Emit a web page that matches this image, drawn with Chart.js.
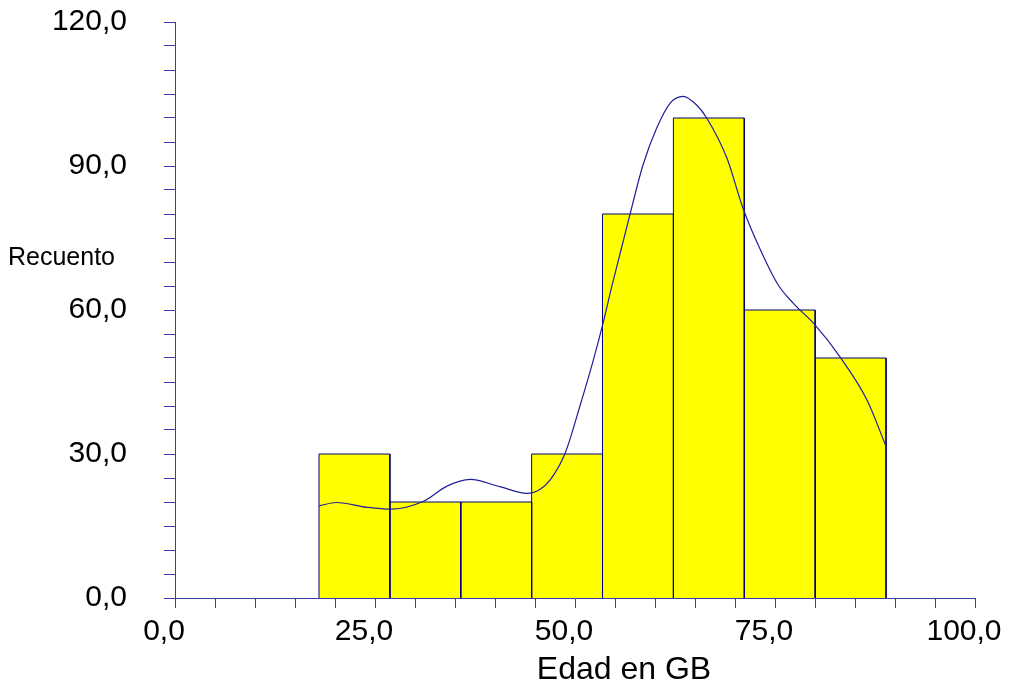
<!DOCTYPE html>
<html>
<head>
<meta charset="utf-8">
<script src="https://cdn.jsdelivr.net/npm/chart.js@4/dist/chart.umd.min.js"></script>
<style>
  body { margin: 0; background: #fff; }
  canvas { display: block; }
</style>
</head>
<body>
<canvas id="c" width="1014" height="685"></canvas>
<script>
// histogram bins (edges) and counts
const binEdges = [18.0, 26.86, 35.72, 44.58, 53.44, 62.3, 71.16, 80.02, 88.88];
const counts = [30, 20, 20, 30, 80, 100, 60, 50];

// density curve
const curveX = [18.0, 20.2, 24.0, 26.9, 31.0, 34.0, 36.9, 40.6, 44.0, 45.6, 46.9, 48.75, 50.6, 52.3, 53.5, 54.6, 55.75, 56.9, 58.5, 60.2, 61.9, 63.5, 65.2, 66.5, 69.0, 71.0, 73.1, 75.4, 77.3, 80.0, 83.1, 86.5, 88.9];
const curveY = [19.2, 19.9, 18.9, 18.5, 20.1, 23.3, 24.7, 23.2, 21.8, 22.6, 24.6, 30.1, 39.9, 49.6, 57.2, 64.9, 72.5, 80.1, 90.2, 97.85, 103.1, 104.5, 102.7, 99.9, 91.6, 81.2, 72.8, 65.2, 61.4, 56.9, 50.3, 41.25, 31.5];

const xLabelValues = [0, 25, 50, 75, 100];
const yLabelValues = [0, 30, 60, 90, 120];

const FONT = "'Liberation Sans', Arial, sans-serif";
const NAVY = "#000080";
const AXIS = "#3c3ca0";

const fmt = v => v.toFixed(1).replace(".", ",");

const barSets = counts.map((h, i) => ({
  data: [
    { x: binEdges[i], y: 0 },
    { x: binEdges[i], y: h },
    { x: binEdges[i + 1], y: h },
    { x: binEdges[i + 1], y: 0 }
  ],
  fill: "origin",
  backgroundColor: "#ffff00",
  borderColor: NAVY,
  borderWidth: 1,
  pointRadius: 0,
  tension: 0,
  order: 2
}));

const curveSet = {
  data: curveX.map((x, i) => ({ x, y: curveY[i] })),
  borderColor: "#1f1f99",
  borderWidth: 1.2,
  pointRadius: 0,
  fill: false,
  cubicInterpolationMode: "monotone",
  order: 0
};

const axisTitles = {
  id: "axisTitles",
  afterDraw(chart) {
    const ctx = chart.ctx;
    ctx.save();
    ctx.fillStyle = "#000";
    ctx.textBaseline = "middle";
    ctx.font = "25px " + FONT;
    ctx.textAlign = "left";
    ctx.fillText("Recuento", 8, 258);
    ctx.font = "32px " + FONT;
    ctx.textAlign = "center";
    ctx.fillText("Edad en GB", 624, 670);
    ctx.restore();
  }
};

new Chart(document.getElementById("c"), {
  type: "line",
  data: { datasets: [curveSet, ...barSets] },
  options: {
    responsive: false,
    animation: false,
    layout: { padding: { top: 22, right: 39, left: 0, bottom: 0 } },
    plugins: { legend: { display: false }, tooltip: { enabled: false } },
    scales: {
      x: {
        type: "linear",
        min: 0,
        max: 100,
        afterFit: s => { s.height = 87; s.paddingLeft = 0; s.paddingRight = 0; },
        border: { color: AXIS, width: 1 },
        grid: { drawOnChartArea: false, drawTicks: true, tickLength: 10, tickColor: AXIS },
        ticks: {
          stepSize: 5,
          autoSkip: false,
          maxRotation: 0,
          padding: 6,
          labelOffset: -11,
          color: "#000",
          font: { family: FONT, size: 30 },
          callback: v => xLabelValues.includes(v) ? fmt(v) : ""
        }
      },
      y: {
        min: 0,
        max: 120,
        afterFit: s => { s.width = 175; s.paddingTop = 0; s.paddingBottom = 0; },
        border: { color: AXIS, width: 1 },
        grid: { drawOnChartArea: false, drawTicks: true, tickLength: 11, tickColor: AXIS },
        ticks: {
          stepSize: 5,
          autoSkip: false,
          padding: 37,
          color: "#000",
          font: { family: FONT, size: 30 },
          callback: v => yLabelValues.includes(v) ? fmt(v) : ""
        }
      }
    }
  },
  plugins: [axisTitles]
});
</script>
</body>
</html>
